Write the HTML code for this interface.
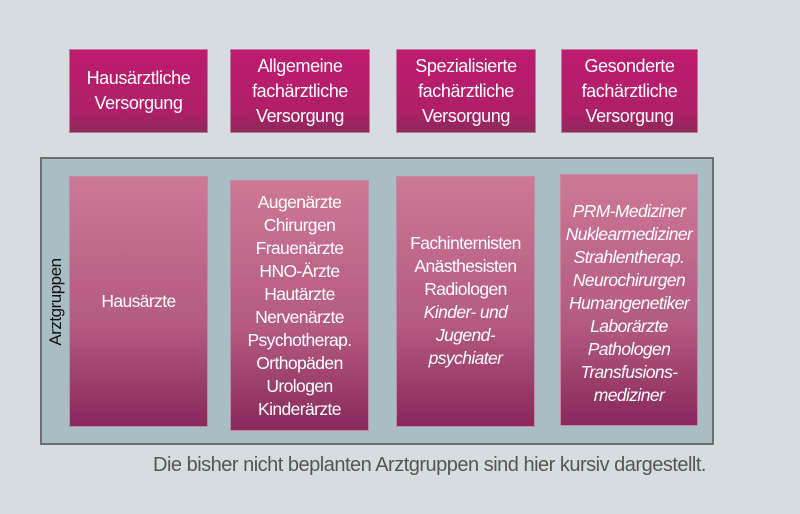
<!DOCTYPE html>
<html><head><meta charset="utf-8"><style>
body{margin:0;width:800px;height:514px;background:#d5dde0;font-family:"Liberation Sans",sans-serif;position:relative;overflow:hidden}
.b{position:absolute;display:flex;align-items:center;justify-content:center;text-align:center;color:#fff;font-size:17.5px;letter-spacing:-0.6px;line-height:23px}
.t{background:linear-gradient(#be1b6f,#b01f68 75%,#8c2a5b);border:1px solid #c27a9c;box-sizing:border-box;font-size:18px;line-height:25px;letter-spacing:-0.4px}
.l{background:linear-gradient(#ce7896,#b35a80 60%,#88295a);border:1px solid #c48aa2;box-sizing:border-box}
i{font-style:italic}
</style></head><body>
<div class="b t" style="left:69px;top:49px;width:139px;height:84px">Hausärztliche<br>Versorgung</div>
<div class="b t" style="left:230px;top:49px;width:140px;height:84px">Allgemeine<br>fachärztliche<br>Versorgung</div>
<div class="b t" style="left:396px;top:49px;width:140px;height:84px">Spezialisierte<br>fachärztliche<br>Versorgung</div>
<div class="b t" style="left:561px;top:49px;width:137px;height:84px">Gesonderte<br>fachärztliche<br>Versorgung</div>
<div style="position:absolute;left:40px;top:157px;width:670px;height:284px;background:#a9bec4;border:2px solid #6e6e6e"></div>
<div style="position:absolute;left:56px;top:302px;transform:translate(-50%,-50%) rotate(-90deg);font-size:17px;letter-spacing:-0.5px;color:#111;white-space:nowrap">Arztgruppen</div>
<div class="b l" style="left:69px;top:176px;width:139px;height:251px">Hausärzte</div>
<div class="b l" style="left:230px;top:180px;width:139px;height:251px">Augenärzte<br>Chirurgen<br>Frauenärzte<br>HNO-Ärzte<br>Hautärzte<br>Nervenärzte<br>Psychotherap.<br>Orthopäden<br>Urologen<br>Kinderärzte</div>
<div class="b l" style="left:396px;top:176px;width:139px;height:251px;align-items:flex-start"><div style="margin-top:55px">Fachinternisten<br>Anästhesisten<br>Radiologen<br><i>Kinder- und<br>Jugend-<br>psychiater</i></div></div>
<div class="b l" style="left:560px;top:174px;width:138px;height:252px;align-items:flex-start"><div style="margin-top:25px"><i>PRM-Mediziner<br>Nuklearmediziner<br>Strahlentherap.<br>Neurochirurgen<br>Humangenetiker<br>Laborärzte<br>Pathologen<br>Transfusions-<br>mediziner</i></div></div>
<div style="position:absolute;left:153px;top:454px;font-size:20px;letter-spacing:-0.5px;color:#555;white-space:nowrap">Die bisher nicht beplanten Arztgruppen sind hier kursiv dargestellt.</div>
</body></html>
